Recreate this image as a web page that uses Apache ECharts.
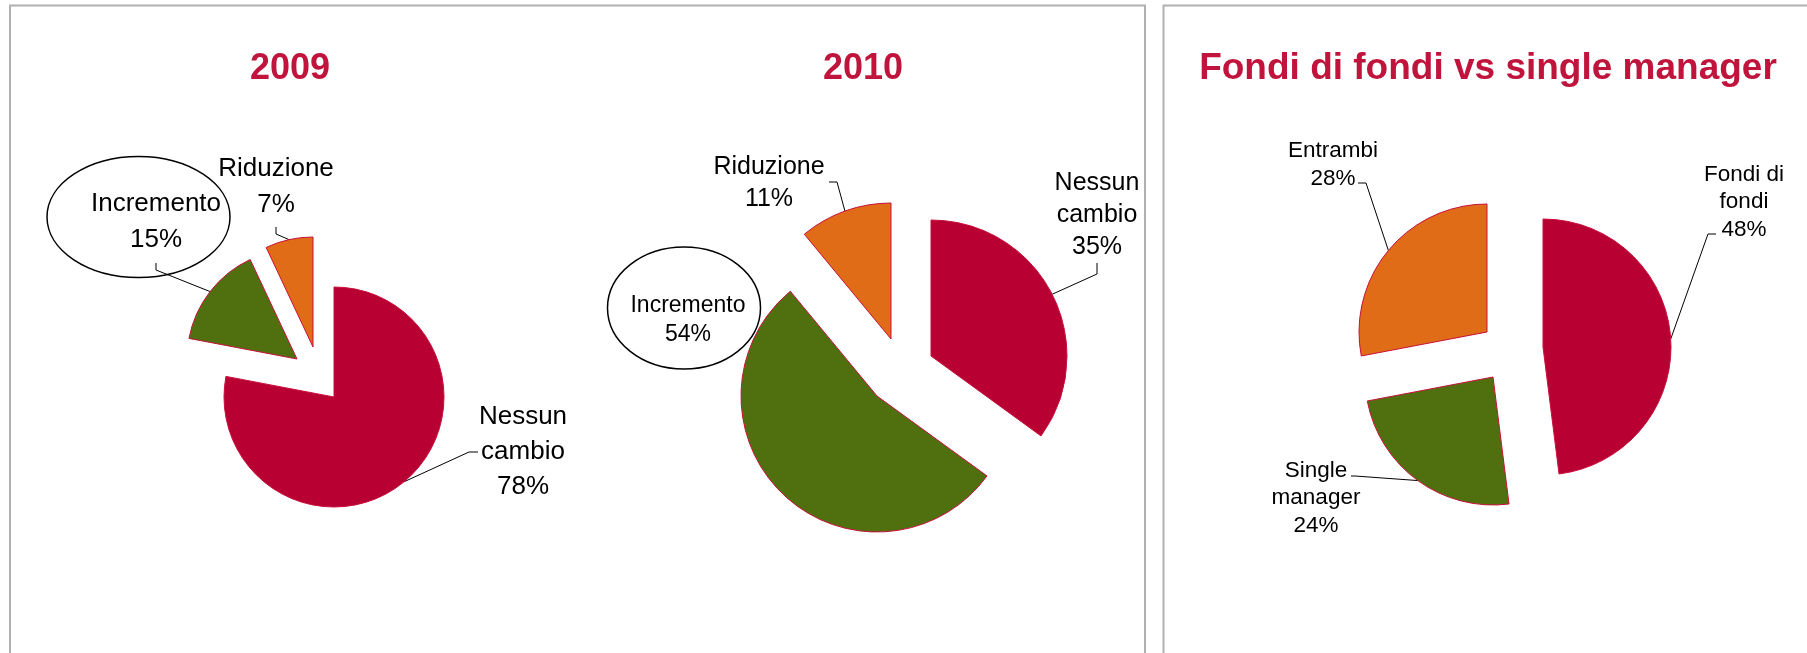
<!DOCTYPE html>
<html>
<head>
<meta charset="utf-8">
<title>Fondi - torte</title>
<script src="https://cdn.jsdelivr.net/npm/echarts@6/dist/echarts.min.js"></script>
<style>
  html, body { margin: 0; padding: 0; background: #fff; }
  #main { width: 1807px; height: 653px; }
</style>
</head>
<body>
<div id="main"></div>
<script>
var titles = ["2009", "2010", "Fondi di fondi vs single manager"];

var names2009 = ["Nessun\ncambio", "Incremento", "Riduzione"];
var values2009 = [78, 15, 7];

var names2010 = ["Nessun\ncambio", "Incremento", "Riduzione"];
var values2010 = [35, 54, 11];

var namesFondi = ["Fondi di\nfondi", "Single\nmanager", "Entrambi"];
var valuesFondi = [48, 24, 28];

var colors = ["#b80033", "#507010", "#e06c18"];
var titleColor = "#c0143c";
var font = "Liberation Sans, Arial, sans-serif";

// where every (exploded) slice sits and where its label goes
var layout2009 = {
  radius: 110,
  centers: [[334, 397], [297, 359], [313, 347]],
  labels: [[523, 452], [156, 222], [276, 187]],
  ticks: [[[478, 452], [469, 452]], [[156, 263], [156, 270]], [[276, 227], [276, 234]]],
  fontSize: [26, 26, 26],
  lineHeight: [35, 36, 36]
};
var layout2010 = {
  radius: 136,
  centers: [[931, 356], [877, 396], [891, 339]],
  labels: [[1097, 215], [688, 320], [769, 183]],
  ticks: [[[1097, 263], [1097, 274]], null, [[829, 182], [837, 182]]],
  fontSize: [25, 23, 25],
  lineHeight: [32, 29, 32]
};
var layoutFondi = {
  radius: 128,
  centers: [[1543, 347], [1493, 377], [1487, 332]],
  labels: [[1744, 202], [1316, 498], [1333, 165]],
  ticks: [[[1716, 234], [1708, 234]], [[1351, 476], [1355, 476]], [[1358, 183], [1366, 183]]],
  fontSize: [22.5, 22.5, 22.5],
  lineHeight: [27.5, 27.5, 27.5]
};

// one series per slice, so each slice can be moved on its own
function slices(names, values, lay) {
  var list = [];
  values.forEach(function (v, k) {
    var data = names.map(function (n, i) {
      var on = i === k;
      return {
        name: n,
        value: values[i],
        itemStyle: on
          ? { color: colors[i], borderColor: "#c8103c", borderWidth: 1 }
          : { color: "rgba(0,0,0,0)", borderWidth: 0 },
        label: { show: on },
        labelLine: { show: on && !!lay.ticks[i] }
      };
    });
    list.push({
      type: "pie",
      silent: true,
      animation: false,
      radius: lay.radius,
      center: lay.centers[k],
      startAngle: 90,
      clockwise: true,
      avoidLabelOverlap: false,
      data: data,
      label: {
        position: "outside",
        formatter: "{b}\n{c}%",
        color: "#000",
        fontFamily: font,
        fontSize: lay.fontSize[k],
        lineHeight: lay.lineHeight[k]
      },
      labelLine: {
        lineStyle: { color: "#000", width: 1 }
      },
      labelLayout: function (p) {
        if (p.dataIndex !== k) return;
        var pos = lay.labels[k];
        var res = { x: pos[0], y: pos[1], align: "center", verticalAlign: "middle" };
        var t = lay.ticks[k];
        if (t && p.labelLinePoints) {
          res.labelLinePoints = [t[0], t[1], p.labelLinePoints[0]];
        }
        return res;
      }
    });
  });
  return list;
}

var titleX = [290, 863, 1488];
var option = {
  backgroundColor: "#fff",
  title: titles.map(function (t, i) {
    return {
      text: t,
      left: titleX[i],
      top: 49,
      padding: 0,
      textAlign: "center",
      textStyle: {
        color: titleColor,
        fontFamily: font,
        fontWeight: "bold",
        fontSize: i === 2 ? 37 : 36,
        lineHeight: 40
      }
    };
  }),
  graphic: [
    { type: "rect", silent: true, shape: { x: 10, y: 5.5, width: 1135, height: 700 },
      style: { fill: "none", stroke: "#b0b0b0", lineWidth: 2 } },
    { type: "rect", silent: true, shape: { x: 1163.5, y: 5.5, width: 700, height: 700 },
      style: { fill: "none", stroke: "#b0b0b0", lineWidth: 2 } },
    { type: "ellipse", silent: true, shape: { cx: 138.5, cy: 217, rx: 91.5, ry: 60.5 },
      style: { fill: "none", stroke: "#000", lineWidth: 1.5 } },
    { type: "ellipse", silent: true, shape: { cx: 684, cy: 308, rx: 76.5, ry: 61 },
      style: { fill: "none", stroke: "#000", lineWidth: 1.5 } }
  ],
  series: []
    .concat(slices(names2009, values2009, layout2009))
    .concat(slices(names2010, values2010, layout2010))
    .concat(slices(namesFondi, valuesFondi, layoutFondi))
};

var chart = echarts.init(document.getElementById("main"));
chart.setOption(option);
</script>
</body>
</html>
